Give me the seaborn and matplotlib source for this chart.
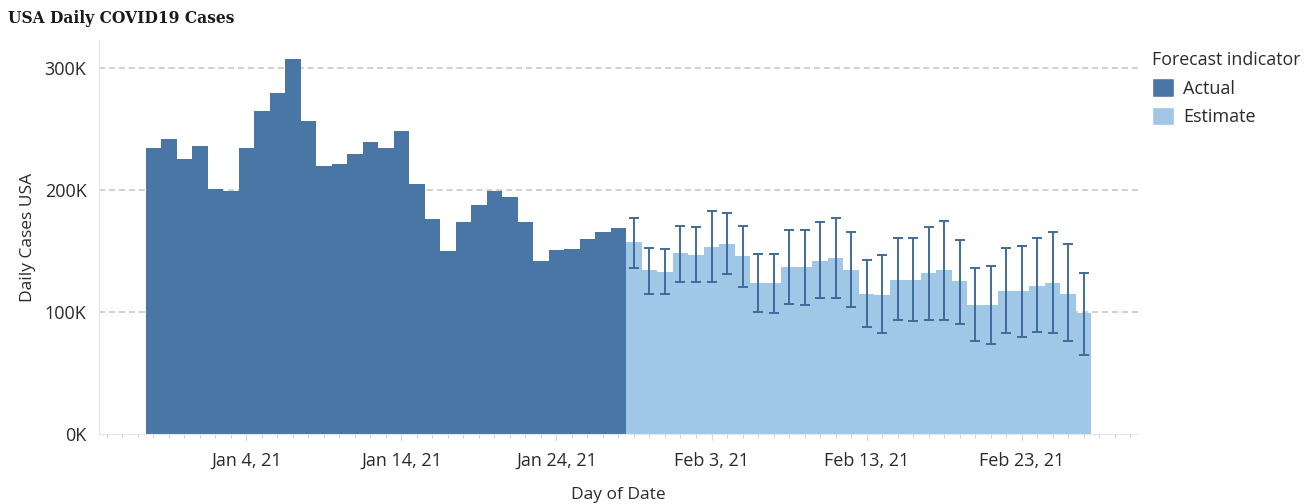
import matplotlib.pyplot as plt
from matplotlib.ticker import MultipleLocator, FuncFormatter
from matplotlib.patches import Patch
import seaborn as sns
import pandas as pd

# daily cases in thousands
actual_cases = [234, 241.6, 225, 236, 200.6, 199, 234, 264.8, 279, 307,
                256, 219.8, 221, 229, 239, 234, 248, 204.5, 176.4, 149.6,
                173.9, 187.8, 199, 194.4, 173.9, 142, 150.7, 151.8, 159.7, 165.2,
                168.5]
estimate_cases = [157.5, 134.3, 132.7, 148, 146.6, 153.2, 155.9, 145.5, 123.9, 123.9,
                  136.5, 136.5, 141.7, 144.4, 134.2, 114.9, 113.6, 126.4, 126.4, 131.6,
                  134.3, 125, 105.9, 105.9, 117.1, 117.1, 121.2, 123.7, 114.9, 99.1]
estimate_upper = [177, 152.6, 151.5, 170.6, 169.5, 182.4, 181, 170.6, 147.7, 147.7,
                  167, 167, 173.6, 177.2, 165.7, 142.7, 146.3, 160.2, 160.2, 169.5,
                  174.7, 159.1, 136.2, 137.3, 152.6, 154, 160.2, 165.7, 155.4, 132.1]
estimate_lower = [136, 114.4, 114.4, 124.5, 124.5, 124.5, 130.8, 120.7, 99.9, 98.8,
                  106.5, 105.4, 111.6, 111.6, 104.3, 87.4, 82.4, 93.6, 92.5, 93.6,
                  93.6, 90.1, 75.9, 73.4, 82.4, 79.7, 83.5, 82.4, 75.9, 64.4]
labeled_days = ["2021-01-04", "2021-01-14", "2021-01-24", "2021-02-03", "2021-02-13", "2021-02-23"]

days = pd.date_range("2020-12-29", periods=len(actual_cases) + len(estimate_cases))
df = pd.DataFrame({
    "Day": days.strftime("%Y-%m-%d"),
    "Cases": [v * 1000 for v in actual_cases + estimate_cases],
    "Forecast indicator": ["Actual"] * len(actual_cases) + ["Estimate"] * len(estimate_cases),
})

colors = {"Actual": "#4a76a5", "Estimate": "#a0c8e6"}
text_color = "#2a2a2a"

sns.set_style("white")
plt.rcParams["font.family"] = ["Open Sans", "DejaVu Sans"]

fig = plt.figure(figsize=(13.11, 5.04), dpi=100)
ax = fig.add_axes([0.0755, 0.139, 0.7925, 0.7816])

sns.barplot(data=df, x="Day", y="Cases", hue="Forecast indicator", palette=colors,
            width=1.0, dodge=False, saturation=1, legend=False, linewidth=0,
            edgecolor="none", ax=ax)

# error bars on the estimate part
est_x = list(range(len(actual_cases), len(df)))
est = [v * 1000 for v in estimate_cases]
lo = [e - v * 1000 for e, v in zip(est, estimate_lower)]
hi = [v * 1000 - e for e, v in zip(est, estimate_upper)]
ax.errorbar(est_x, est, yerr=[lo, hi], fmt="none", ecolor="#3f6b9c",
            elinewidth=1.4, capsize=3.5, capthick=1.4, zorder=5)

ax.set_xlim(-3.5, len(df) + 2.5)
ax.set_ylim(0, 322700)
ax.set_yticks([0, 100000, 200000, 300000])
ax.yaxis.set_major_formatter(FuncFormatter(lambda v, p: f"{int(v / 1000)}K"))
for y in [100000, 200000, 300000]:
    ax.axhline(y, color="#c4c4c4", linestyle=(0, (4, 2.5)), linewidth=1.1, zorder=0)

day_list = list(df["Day"])
tick_idx = [day_list.index(d) for d in labeled_days]
ax.set_xticks(tick_idx)
ax.set_xticklabels([f"{pd.Timestamp(d):%b} {pd.Timestamp(d).day}, {pd.Timestamp(d):%y}" for d in labeled_days])
ax.xaxis.set_minor_locator(MultipleLocator(1))
ax.tick_params(axis="x", which="both", direction="out", color="#d8d8d8", length=4, width=0.8,
               labelsize=13, labelcolor=text_color, pad=9, bottom=True)
ax.tick_params(axis="x", which="minor", length=3)
ax.tick_params(axis="y", length=0, labelsize=13, labelcolor=text_color, pad=9)

ax.set_xlabel("Day of Date", fontsize=12.5, color=text_color, labelpad=12)
ax.set_ylabel("Daily Cases USA", fontsize=12.5, color=text_color, labelpad=6)

sns.despine(ax=ax, top=True, right=True)
ax.spines["left"].set_color("#e6e6e6")
ax.spines["bottom"].set_color("#e6e6e6")

handles = [Patch(facecolor=colors[k], label=k) for k in colors]
leg = ax.legend(handles=handles, title="Forecast indicator", loc="upper left",
                bbox_to_anchor=(1.007, 0.99), borderaxespad=0, frameon=False, fontsize=13,
                title_fontsize=12.8, handlelength=1.2, handleheight=1.2,
                labelspacing=0.5, handletextpad=0.5, alignment="left")
for t in leg.get_texts():
    t.set_color(text_color)
leg.get_title().set_color(text_color)

fig.text(0.006, 0.963, "USA Daily COVID19 Cases", fontsize=11.2, fontweight="bold",
         family="DejaVu Serif", color="#1a1a1a", va="center")

fig.savefig("out.png", dpi=100)
